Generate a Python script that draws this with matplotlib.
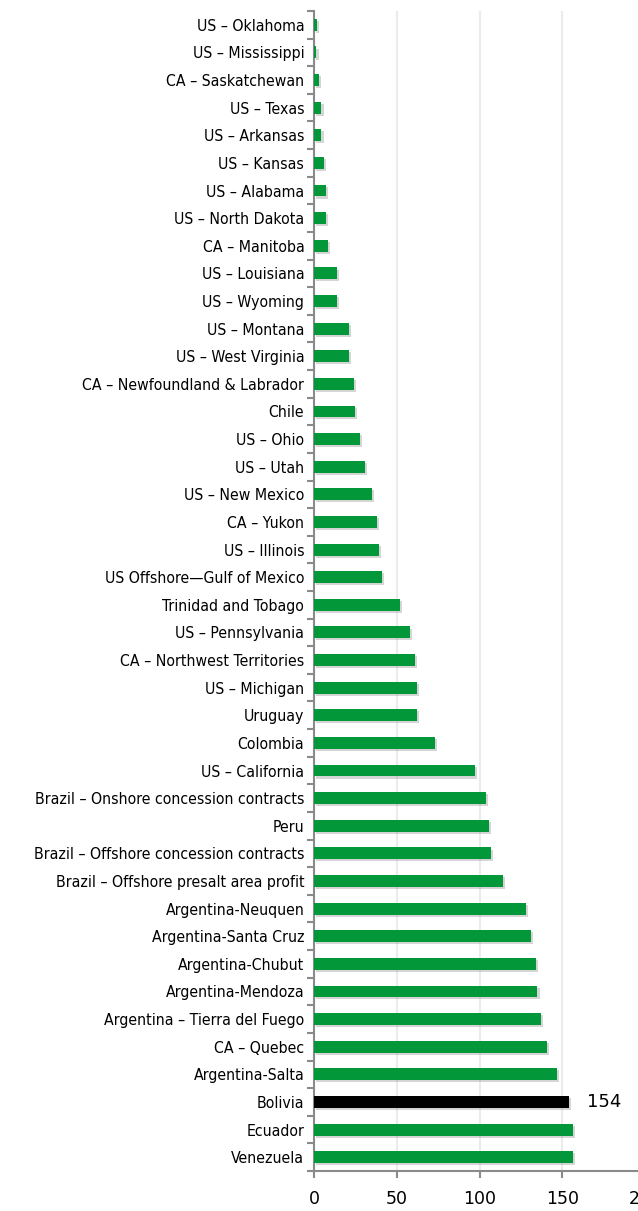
import matplotlib
matplotlib.use("Agg")
import matplotlib.pyplot as plt
import matplotlib.patheffects as pe
import numpy as np

plt.rcParams['font.family'] = ['DejaVu Sans']

# top to bottom, as in the picture
categories = [
    "US – Oklahoma", "US – Mississippi", "CA – Saskatchewan", "US – Texas",
    "US – Arkansas", "US – Kansas", "US – Alabama", "US – North Dakota",
    "CA – Manitoba", "US – Louisiana", "US – Wyoming", "US – Montana",
    "US – West Virginia", "CA – Newfoundland & Labrador", "Chile", "US – Ohio",
    "US – Utah", "US – New Mexico", "CA – Yukon", "US – Illinois",
    "US Offshore—Gulf of Mexico", "Trinidad and Tobago", "US – Pennsylvania",
    "CA – Northwest Territories", "US – Michigan", "Uruguay", "Colombia",
    "US – California", "Brazil – Onshore concession contracts", "Peru",
    "Brazil – Offshore concession contracts", "Brazil – Offshore presalt area profit",
    "Argentina-Neuquen", "Argentina-Santa Cruz", "Argentina-Chubut",
    "Argentina-Mendoza", "Argentina – Tierra del Fuego", "CA – Quebec",
    "Argentina-Salta", "Bolivia", "Ecuador", "Venezuela",
]
values = [
    2, 1.5, 3, 4.5, 4.5, 6, 7.5, 7.5, 8.7, 14, 14, 21, 21, 24, 25, 28, 31, 35,
    38, 39.5, 41, 52, 58, 61, 62, 62, 73, 97, 104, 105.5, 107, 114, 128, 131,
    134, 135, 137, 141, 147, 154, 156.5, 156.5,
]
highlight = "Bolivia"
xticks = [0, 50, 100, 150, 200]

green = "#02983a"
colors = ["black" if c == highlight else green for c in categories]

fig = plt.figure(figsize=(6.38, 12.11), dpi=100)
ax = fig.add_axes([314 / 638, 1 - 1171 / 1211, 331 / 638, 1160 / 1211])

y = np.arange(len(categories))
bars = ax.barh(y, values, height=0.43, color=colors, zorder=3)
for b in bars:
    b.set_path_effects([pe.SimplePatchShadow(offset=(1.5, -1.5), shadow_rgbFace="#888888", alpha=0.35),
                        pe.Normal()])

ax.set_ylim(len(categories) - 0.5, -0.5)
ax.set_xlim(0, 200)
ax.set_yticks(y)
ax.set_yticklabels(categories, fontsize=11.3, fontstretch="condensed")
ax.set_yticks(np.arange(-0.5, len(categories), 1), minor=True)
ax.tick_params(axis="y", which="major", length=0, pad=7)
ax.tick_params(axis="y", which="minor", length=5, width=1.5, color="#8a8a8a", direction="out")

ax.set_xticks(xticks)
ax.set_xticklabels([str(t) for t in xticks], fontsize=12.5)
ax.tick_params(axis="x", length=5, width=1.5, color="#8a8a8a", pad=9)
ax.grid(axis="x", color="#ebebeb", linewidth=1.5, zorder=0)

for s in ["top", "right"]:
    ax.spines[s].set_visible(False)
for s in ["left", "bottom"]:
    ax.spines[s].set_color("#8a8a8a")
    ax.spines[s].set_linewidth(1.5)

bi = categories.index(highlight)
ax.annotate(f"{values[bi]:g}", xy=(values[bi], bi), xytext=(13, 0),
            textcoords="offset points", va="center", ha="left", fontsize=13)

fig.savefig("out.png", dpi=100)
